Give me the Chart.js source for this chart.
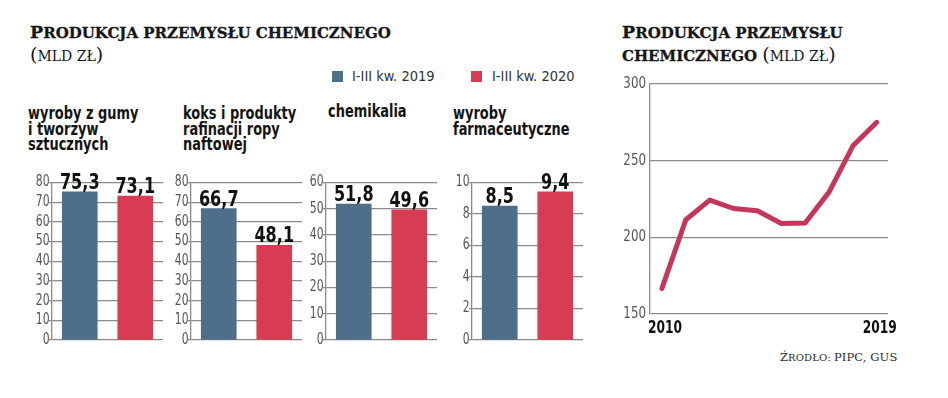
<!DOCTYPE html>
<html><head><meta charset="utf-8">
<script src="https://cdn.jsdelivr.net/npm/chart.js@4/dist/chart.umd.min.js"></script>
<style>
html,body{margin:0;padding:0;background:#fff;}
body{width:948px;height:398px;position:relative;overflow:hidden;font-family:"DejaVu Sans Condensed","DejaVu Sans",sans-serif;}
.t{position:absolute;white-space:nowrap;color:#1a1a1a;}
.ttl{font-family:"DejaVu Serif",serif;font-weight:bold;font-size:15px;letter-spacing:0px;line-height:21px;color:#161616;-webkit-text-stroke:0.3px #161616;}
.ttl .b{font-size:17.5px;}
.ttl .r{font-weight:normal;font-size:14px;-webkit-text-stroke:0;}
.ttl .p{font-weight:normal;font-size:19px;-webkit-text-stroke:0;}
.cat{font-weight:bold;font-size:18px;line-height:15.5px;color:#141414;transform:scaleX(0.8);transform-origin:0 0;}
.leg{font-size:14.5px;color:#333;line-height:16px;}
.sw{position:absolute;width:11px;height:11px;}
.src{font-family:"DejaVu Serif",serif;font-size:10px;color:#2a2a2a;letter-spacing:0.1px;}
.src .b{font-size:11.5px;}
canvas{position:absolute;}
</style></head>
<body>
<div class="t ttl" style="left:30px;top:22px;"><span class="b">P</span>RODUKCJA PRZEMYSŁU CHEMICZNEGO<br><span class="p">(</span><span class="r">MLD ZŁ</span><span class="p">)</span></div>
<div class="t ttl" style="left:622px;top:22px;"><span class="b">P</span>RODUKCJA PRZEMYSŁU<br>CHEMICZNEGO <span class="p">(</span><span class="r">MLD ZŁ</span><span class="p">)</span></div>

<div class="sw" style="left:332px;top:71px;background:#4e6e89;"></div>
<div class="t leg" style="left:352px;top:68px;" id="leg0"></div>
<div class="sw" style="left:471px;top:71px;background:#d63c52;"></div>
<div class="t leg" style="left:492px;top:68px;" id="leg1"></div>

<div class="t cat" id="cat0" style="left:28px;top:105px;"></div>
<div class="t cat" id="cat1" style="left:183px;top:105px;"></div>
<div class="t cat" id="cat2" style="left:328px;top:103px;"></div>
<div class="t cat" id="cat3" style="left:453px;top:105px;"></div>

<canvas id="b0"></canvas><canvas id="b1"></canvas><canvas id="b2"></canvas><canvas id="b3"></canvas>
<canvas id="line"></canvas>

<div class="t src" style="left:780px;top:350px;"><span class="b">Ź</span>RODŁO: <span class="b">PIPC, GUS</span></div>

<script>
// ---- data ----
const seriesNames = ['I-III kw. 2019', 'I-III kw. 2020'];
const categories = [
  ['wyroby z gumy', 'i tworzyw', 'sztucznych'],
  ['koks i produkty', 'rafinacji ropy', 'naftowej'],
  ['chemikalia'],
  ['wyroby', 'farmaceutyczne']
];
const values2019 = [75.3, 66.7, 51.8, 8.5];
const values2020 = [73.1, 48.1, 49.6, 9.4];
const axisMax = [80, 80, 60, 10];
const axisStep = [10, 10, 10, 2];

const years = [2010, 2011, 2012, 2013, 2014, 2015, 2016, 2017, 2018, 2019];
const production = [166.7, 211.5, 224.3, 218.8, 217.3, 209.0, 209.4, 229.5, 259.7, 275.0];
const lineTicks = [150, 200, 250, 300];
const yearLabels = [2010, 2019];

// ---- style ----
const BLUE = '#4e6e89', RED = '#d63c52', LINE = '#c4375a', GRID = '#8a8a8a';
const COND = '"DejaVu Sans Condensed","DejaVu Sans",sans-serif';

document.getElementById('leg0').textContent = seriesNames[0];
document.getElementById('leg1').textContent = seriesNames[1];
categories.forEach((c, i) => { document.getElementById('cat' + i).innerHTML = c.join('<br>'); });

function narrowText(ctx, text, x, y, sx) {
  ctx.save();
  ctx.translate(x, y);
  ctx.scale(sx, 1);
  ctx.fillText(text, 0, 0);
  ctx.restore();
}

// value labels above bars
const valueLabels = {
  id: 'valueLabels',
  afterDatasetsDraw(chart) {
    const ctx = chart.ctx;
    ctx.save();
    ctx.font = 'bold 21px ' + COND;
    ctx.fillStyle = '#111';
    ctx.textAlign = 'center';
    ctx.textBaseline = 'alphabetic';
    const meta = chart.getDatasetMeta(0);
    meta.data.forEach((bar, j) => {
      const v = chart.data.datasets[0].data[j];
      narrowText(ctx, v.toFixed(1).replace('.', ','), bar.x, bar.y - 3, 0.85);
    });
    ctx.restore();
  }
};

// condensed tick labels drawn from the library's scales
const narrowTicks = {
  id: 'narrowTicks',
  afterDraw(chart, args, opts) {
    const ctx = chart.ctx;
    ['x', 'y'].forEach(id => {
      const o = opts[id];
      const s = chart.scales[id];
      if (!o || !s) return;
      ctx.save();
      ctx.font = o.font;
      ctx.fillStyle = o.color;
      s.ticks.forEach(t => {
        if (id === 'y') {
          ctx.textAlign = 'right'; ctx.textBaseline = 'middle';
          narrowText(ctx, String(t.value), s.right - o.pad, s.getPixelForValue(t.value), o.sx);
        } else {
          ctx.textAlign = 'center'; ctx.textBaseline = 'alphabetic';
          narrowText(ctx, String(t.value), s.getPixelForValue(t.value) + (o.dx || 0), s.top + o.pad, o.sx);
        }
      });
      ctx.restore();
    });
  }
};

const axisX = [52, 190.5, 326, 472];
const YW = 34, PW = 111;
axisX.forEach((ax, i) => {
  const cv = document.getElementById('b' + i);
  cv.style.left = (ax - YW) + 'px';
  cv.style.top = '170px';
  cv.style.width = (YW + PW + 2) + 'px';
  cv.style.height = '180px';
  cv.width = YW + PW + 2; cv.height = 180;
  new Chart(cv, {
    type: 'bar',
    data: {
      labels: seriesNames,
      datasets: [{ data: [values2019[i], values2020[i]], backgroundColor: [BLUE, RED], barThickness: 35 }]
    },
    options: {
      responsive: false, animation: false, maintainAspectRatio: false,
      layout: { padding: { top: 12.5, bottom: 10, right: 2, left: 0 } },
      plugins: {
        legend: { display: false }, tooltip: { enabled: false },
        narrowTicks: { y: { font: '15px ' + COND, color: '#555', pad: 2.5, sx: 0.8 } }
      },
      scales: {
        x: { display: false },
        y: {
          min: 0, max: axisMax[i],
          afterFit(s) { s.width = YW; },
          ticks: { stepSize: axisStep[i], display: false, autoSkip: false },
          grid: { color: GRID, lineWidth: 1.3, tickLength: 3 },
          border: { display: true, color: GRID, width: 1.3 }
        }
      }
    },
    plugins: [valueLabels, narrowTicks]
  });
});

const lc = document.getElementById('line');
lc.style.left = '600px'; lc.style.top = '70px';
lc.style.width = '298px'; lc.style.height = '280px';
lc.width = 298; lc.height = 280;
new Chart(lc, {
  type: 'line',
  data: { datasets: [{ data: years.map((y, k) => ({ x: y, y: production[k] })), borderColor: LINE, borderWidth: 5, pointRadius: 0, tension: 0, borderJoinStyle: 'round', borderCapStyle: 'round' }] },
  options: {
    responsive: false, animation: false, maintainAspectRatio: false,
    layout: { padding: { top: 14, right: 10, left: 0, bottom: 0 } },
    plugins: {
      legend: { display: false }, tooltip: { enabled: false },
      narrowTicks: {
        y: { font: '15px ' + COND, color: '#555', pad: 4, sx: 0.88 },
        x: { font: 'bold 17px ' + COND, color: '#111', pad: 19, sx: 0.8, dx: 3 }
      }
    },
    scales: {
      x: {
        type: 'linear', min: 2009.5, max: 2019.47,
        afterBuildTicks(s) { s.ticks = yearLabels.map(v => ({ value: v })); },
        afterFit(s) { s.height = 36; },
        ticks: { display: false },
        grid: { display: false },
        border: { display: false }
      },
      y: {
        min: 150, max: 300,
        afterBuildTicks(s) { s.ticks = lineTicks.map(v => ({ value: v })); },
        afterFit(s) { s.width = 50; },
        ticks: { display: false },
        grid: { color: GRID, lineWidth: 1.3, drawTicks: false },
        border: { display: true, color: GRID, width: 1.3 }
      }
    }
  },
  plugins: [narrowTicks]
});
</script>
</body></html>
